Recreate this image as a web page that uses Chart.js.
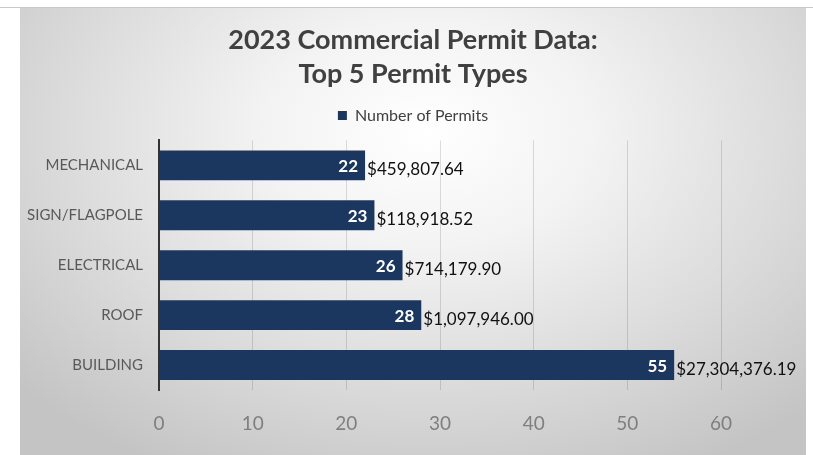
<!DOCTYPE html>
<html>
<head>
<meta charset="utf-8">
<script src="https://cdn.jsdelivr.net/npm/chart.js@4"></script>
<style>
  html, body { margin: 0; padding: 0; background: #ffffff; }
  #wrap { position: relative; width: 813px; height: 455px; }
  #bg { position: absolute; left: 20px; top: 7px; width: 786px; height: 448px;
        background: radial-gradient(ellipse 70% 85% at 52% 28%, #ffffff 0%, #f3f3f3 30%, #dcdcdc 65%, #c4c4c4 100%); }
  #topline { position: absolute; left: 0; top: 7px; width: 813px; height: 1px; background: #c8c8c8; }
  canvas { position: absolute; left: 0; top: 0; }
</style>
</head>
<body>
<div id="wrap">
  <div id="bg"></div>
  <div id="topline"></div>
  <canvas id="c" width="813" height="455"></canvas>
</div>
<script>
const categories = ['MECHANICAL', 'SIGN/FLAGPOLE', 'ELECTRICAL', 'ROOF', 'BUILDING'];
const permitCounts = [22, 23, 26, 28, 55];
const permitValues = ['$459,807.64', '$118,918.52', '$714,179.90', '$1,097,946.00', '$27,304,376.19'];
const xTicks = [0, 10, 20, 30, 40, 50, 60];
const seriesName = 'Number of Permits';
const titleLines = ['2023 Commercial Permit Data:', 'Top 5 Permit Types'];

const FONT = 'Lato, "Open Sans", sans-serif';
const NAVY = '#1b365f';

const labelPlugin = {
  id: 'barLabels',
  afterDatasetsDraw(chart) {
    const ctx = chart.ctx;
    const meta = chart.getDatasetMeta(0);
    ctx.save();
    meta.data.forEach((bar, i) => {
      const y = bar.y;
      const xEnd = bar.x;
      ctx.textBaseline = 'middle';
      ctx.font = 'bold 17px ' + FONT;
      ctx.fillStyle = '#ffffff';
      ctx.textAlign = 'right';
      ctx.fillText(String(permitCounts[i]), xEnd - 7, y + 1);
      ctx.font = '17px ' + FONT;
      ctx.fillStyle = '#111111';
      ctx.textAlign = 'left';
      ctx.fillText(permitValues[i], xEnd + 2, y + 4);
    });
    ctx.restore();
  }
};

new Chart(document.getElementById('c'), {
  type: 'bar',
  data: {
    labels: categories,
    datasets: [{
      label: seriesName,
      data: permitCounts,
      backgroundColor: NAVY,
      borderWidth: 0,
      barPercentage: 0.6,
      categoryPercentage: 1.0
    }]
  },
  options: {
    indexAxis: 'y',
    responsive: false,
    animation: false,
    devicePixelRatio: 1,
    layout: { padding: { left: 13, right: 0, top: 0, bottom: 0 } },
    plugins: {
      title: {
        display: true,
        text: titleLines,
        color: '#404040',
        font: { family: FONT, size: 27, weight: 'bold', lineHeight: 1.23 },
        padding: { top: 24, bottom: 5 }
      },
      legend: {
        display: true,
        position: 'top',
        labels: {
          color: '#404040',
          font: { family: FONT, size: 16 },
          boxWidth: 9,
          boxHeight: 9,
          padding: 12
        }
      },
      tooltip: { enabled: false }
    },
    scales: {
      x: {
        min: 0,
        max: 60,
        afterBuildTicks(scale) { scale.ticks = xTicks.map(v => ({ value: v })); },
        grid: { color: 'rgba(0,0,0,0.13)', lineWidth: 1, drawTicks: false },
        border: { display: false },
        ticks: { color: '#7f7f7f', font: { family: FONT, size: 19 }, padding: 22 },
        afterFit(scale) { scale.height = 65; }
      },
      x2: {
        axis: 'x',
        type: 'linear',
        position: 'top',
        min: 0,
        max: 60,
        grid: { display: false, drawTicks: false },
        border: { display: false },
        ticks: { display: false },
        afterFit(scale) { scale.height = 7; }
      },
      y: {
        grid: { display: false, drawTicks: false },
        border: { display: true, color: '#333333', width: 2 },
        ticks: { color: '#595959', font: { family: FONT, size: 15 }, padding: 16 },
        afterFit(scale) { scale.width = 146; }
      },
      y2: {
        axis: 'y',
        type: 'category',
        position: 'right',
        grid: { display: false, drawTicks: false },
        border: { display: false },
        ticks: { display: false },
        afterFit(scale) { scale.width = 92; }
      }
    }
  },
  plugins: [labelPlugin]
});
</script>
</body>
</html>
